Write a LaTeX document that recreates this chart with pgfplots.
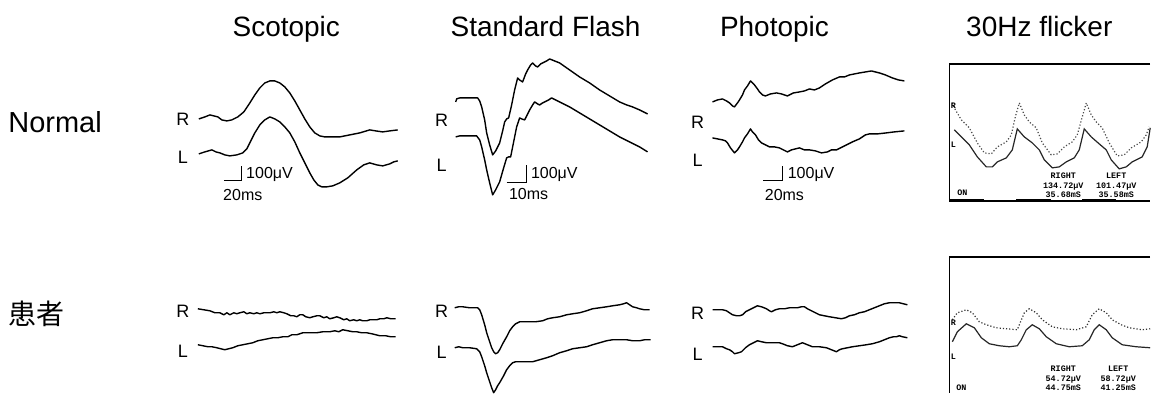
\documentclass[border=0pt]{standalone}
\usepackage{pgfplots}
\pgfplotsset{compat=1.18}
\usepackage{fontspec}
\setmainfont{Liberation Sans}
\newfontfamily\cjk{Noto Sans CJK JP}
\newfontfamily\mono{Liberation Mono}
\tikzset{
  tr/.style={black, line width=0.7pt, line join=round},
  sb/.style={black, line width=0.6pt},
  rl/.style={font=\fontsize{9}{10}\selectfont},
  sm/.style={anchor=west, inner sep=0pt, font=\fontsize{8}{9}\selectfont},
  tt/.style={anchor=base, font=\fontsize{14}{16}\selectfont},
  mo/.style={font=\fontsize{4.2}{3.4}\selectfont\mono\bfseries, align=center, inner sep=0pt},
}
\begin{document}
\begin{tikzpicture}
\begin{axis}[
  width=575.5pt, height=196.5pt, scale only axis,
  xmin=0, xmax=1151, ymin=0, ymax=393, y dir=reverse,
  hide axis, clip=false,
]
\addplot[draw=none] coordinates {(0,0) (1151,393)};
% titles
\node[tt] at (axis cs:286.5,37) {Scotopic};
\node[tt] at (axis cs:546,37) {Standard Flash};
\node[tt] at (axis cs:775,37) {Photopic};
\node[tt] at (axis cs:1040,37) {30Hz flicker};
\node[anchor=base west, inner sep=0pt, font=\fontsize{14.5}{16}\selectfont] at (axis cs:8,133) {Normal};
\node[anchor=base west, inner sep=0pt, font=\fontsize{14}{16}\selectfont\cjk] at (axis cs:8,325) {患者};
% R/L labels
\node[rl] at (axis cs:183,119) {R};
\node[rl] at (axis cs:183,157) {L};
\node[rl] at (axis cs:442,120) {R};
\node[rl] at (axis cs:442,165) {L};
\node[rl] at (axis cs:698,122) {R};
\node[rl] at (axis cs:698,160) {L};
\node[rl] at (axis cs:183,312) {R};
\node[rl] at (axis cs:183,352) {L};
\node[rl] at (axis cs:442,312) {R};
\node[rl] at (axis cs:442,353) {L};
\node[rl] at (axis cs:698,314) {R};
\node[rl] at (axis cs:698,355) {L};
% scale bars
\addplot[sb] coordinates {(224,181)(242,181)(242,166)};
\addplot[sb] coordinates {(507,183)(527,183)(527,165)};
\addplot[sb] coordinates {(764,181)(783,181)(783,166)};
\node[sm] at (axis cs:246,175) {100μV};
\node[sm] at (axis cs:223,195) {20ms};
\node[sm] at (axis cs:531,175) {100μV};
\node[sm] at (axis cs:509,194) {10ms};
\node[sm] at (axis cs:788,175) {100μV};
\node[sm] at (axis cs:765,195) {20ms};
% Scotopic normal
\addplot[tr] coordinates {(199,119)(205,117)(210,115)(214,116)(218,117)(222,120)(227,121)(232,120)(238,117)(244,112)(250,103)(255,95)(260,88)(265,83)(270,81)(275,81)(280,83)(285,87)(290,93)(295,101)(300,110)(305,119)(310,127)(315,133)(320,136)(325,137)(330,137)(340,137)(350,135)(360,133)(370,130)(376,131)(383,132)(390,131)(398,130)};
\addplot[tr] coordinates {(199,154)(205,152)(212,150)(216,152)(220,153)(225,155)(230,156)(237,155)(243,153)(247,149)(250,143)(255,133)(260,125)(265,120)(270,117)(275,119)(280,122)(285,127)(290,133)(295,142)(300,153)(305,163)(310,173)(314,180)(318,185)(322,187)(327,187)(333,186)(340,183)(348,178)(357,170)(364,165)(370,163)(377,165)(383,166)(390,164)(394,162)(398,161)};
% Standard flash normal
\addplot[tr] coordinates {(456,102)(457,99)(460,98)(470,98)(478,98)(480,101)(482,107)(485,120)(487,133)(490,145)(493,155)(496,151)(500,143)(503,131)(505,122)(507,119)(509,118)(512,105)(515,90)(518,78)(520,80)(523,82)(526,74)(528,70)(531,65)(533,63)(536,66)(538,67)(541,64)(543,63)(547,61)(550,59)(555,61)(560,63)(570,70)(580,77)(590,83)(600,90)(610,96)(620,102)(627,105)(633,107)(640,110)(648,114)};
\addplot[tr] coordinates {(456,137)(460,136)(470,136)(477,136)(480,140)(482,147)(485,160)(487,170)(490,183)(493,195)(496,190)(500,182)(504,168)(507,158)(509,157)(511,157)(514,142)(517,127)(520,118)(522,119)(525,120)(528,114)(530,110)(533,105)(535,102)(538,104)(540,105)(543,103)(545,102)(549,100)(552,98)(556,100)(560,102)(570,107)(580,113)(590,119)(600,125)(610,131)(620,137)(630,142)(640,147)(648,152)};
% Photopic normal
\addplot[tr] coordinates {(713,102)(718,100)(723,99)(727,101)(730,103)(733,106)(735,107)(738,103)(740,100)(743,95)(745,90)(748,86)(751,81)(753,83)(755,85)(758,89)(760,92)(763,95)(766,96)(771,94)(777,93)(782,94)(788,96)(794,93)(800,92)(805,91)(810,89)(815,90)(820,88)(826,84)(833,80)(840,77)(845,77)(850,75)(855,74)(860,73)(866,72)(872,71)(876,72)(880,73)(886,75)(893,78)(899,80)(905,81)};
\addplot[tr] coordinates {(713,138)(718,139)(723,140)(726,141)(728,143)(731,148)(735,153)(738,150)(740,147)(743,142)(745,138)(748,134)(751,129)(753,132)(756,135)(759,140)(762,143)(766,145)(770,147)(775,147)(780,148)(784,150)(788,152)(792,150)(796,149)(800,148)(805,150)(810,150)(816,151)(822,153)(828,152)(832,150)(837,150)(845,146)(853,142)(860,139)(866,135)(870,134)(878,134)(887,133)(895,132)(905,131)};
% Scotopic patient
\addplot[tr] coordinates {(198,309)(204,310)(210,311)(215,313)(220,313)(224,315)(227,313)(230,315)(234,313)(237,314)(240,313)(244,312)(247,314)(250,313)(254,314)(257,313)(260,314)(264,313)(267,313)(270,313)(274,312)(277,313)(280,312)(284,313)(287,314)(291,316)(294,316)(297,317)(300,315)(303,315)(306,317)(310,318)(313,317)(317,316)(320,316)(324,318)(327,317)(330,319)(334,318)(337,317)(340,318)(344,320)(347,319)(350,321)(354,320)(357,321)(360,320)(363,321)(367,321)(370,320)(374,320)(377,320)(380,319)(384,319)(387,318)(391,319)(396,319)};
\addplot[tr] coordinates {(198,345)(203,346)(208,347)(212,347)(217,348)(221,349)(225,350)(229,349)(233,348)(238,346)(243,345)(248,344)(253,343)(258,341)(263,340)(268,339)(273,338)(278,338)(283,337)(288,337)(292,335)(297,335)(300,334)(303,333)(310,333)(317,333)(323,332)(330,332)(335,331)(339,332)(343,330)(348,331)(353,332)(357,332)(362,333)(367,333)(372,334)(376,335)(380,336)(386,336)(391,337)(396,337)};
% Standard flash patient
\addplot[tr] coordinates {(455,308)(459,307)(463,307)(470,308)(478,308)(480,310)(482,315)(485,325)(487,333)(490,342)(492,348)(494,352)(496,354)(498,353)(500,350)(503,344)(507,337)(510,331)(513,327)(516,324)(520,322)(525,322)(530,322)(536,322)(543,321)(548,319)(553,318)(560,317)(567,315)(573,314)(580,313)(587,311)(593,309)(600,308)(607,307)(613,306)(620,305)(624,304)(627,303)(630,305)(633,307)(637,308)(640,309)(645,310)(650,310)};
\addplot[tr] coordinates {(455,348)(459,347)(463,348)(470,348)(477,349)(480,352)(482,357)(485,366)(487,373)(490,382)(492,388)(494,393)(496,390)(498,386)(500,383)(504,376)(507,370)(510,366)(513,363)(516,362)(520,362)(527,362)(533,362)(540,360)(547,358)(553,356)(560,353)(567,351)(573,349)(580,348)(587,347)(593,345)(600,343)(607,341)(613,340)(620,340)(627,340)(633,341)(640,341)(645,340)(651,340)};
% Photopic patient
\addplot[tr] coordinates {(713,310)(718,310)(723,310)(727,311)(730,313)(733,315)(737,316)(740,316)(743,315)(746,312)(750,310)(754,308)(758,306)(762,307)(767,309)(770,311)(772,312)(776,310)(780,309)(785,309)(790,308)(794,308)(798,308)(802,307)(805,307)(808,309)(812,311)(816,313)(820,315)(825,316)(830,317)(836,318)(842,319)(846,318)(850,316)(855,315)(860,313)(865,312)(870,310)(875,308)(880,306)(885,304)(890,303)(895,303)(900,303)(904,304)(908,305)};
\addplot[tr] coordinates {(713,347)(718,347)(723,347)(727,349)(730,350)(733,352)(735,354)(739,353)(742,352)(746,348)(750,345)(754,343)(758,341)(762,342)(767,343)(772,343)(777,343)(780,343)(783,344)(788,346)(793,347)(798,345)(803,343)(808,345)(813,347)(820,347)(827,348)(832,350)(837,352)(840,350)(843,349)(848,348)(853,347)(860,346)(867,345)(873,344)(880,342)(885,340)(890,338)(894,337)(897,337)(900,336)(903,337)(908,338)};
% 30Hz flicker normal: frame
\addplot[black, line width=0.8pt] coordinates {(1151,64)(950,64)(950,201)(1151,201)};
\addplot[black, line width=1.6pt] coordinates {(950,201)(985,201)};
\addplot[black, line width=1.6pt] coordinates {(1017,201)(1052,201)};
\addplot[black, line width=1.6pt] coordinates {(1083,201)(1117,201)};
\addplot[black!70, line width=0.6pt, densely dotted] coordinates {(953,103)(955,108)(962,120)(970,128)(978,143)(985,153)(992,154)(998,147)(1007,142)(1012,135)(1016,117)(1020,103)(1025,115)(1030,122)(1037,128)(1043,143)(1052,155)(1058,154)(1065,147)(1073,142)(1078,135)(1083,117)(1087,103)(1092,115)(1097,122)(1103,128)(1110,143)(1118,156)(1125,155)(1132,148)(1142,142)(1147,135)(1150,127)};
\addplot[black!85, line width=0.6pt] coordinates {(955,130)(962,137)(970,145)(978,157)(987,167)(993,167)(998,162)(1007,158)(1013,150)(1018,129)(1025,137)(1033,143)(1040,150)(1045,160)(1053,168)(1060,167)(1067,162)(1075,158)(1080,150)(1085,129)(1092,137)(1100,144)(1107,150)(1112,160)(1120,169)(1127,167)(1133,162)(1143,157)(1148,147)(1151,128)};
\node[mo] at (axis cs:954,106) {R};
\node[mo] at (axis cs:954,145) {L};
\node[mo] at (axis cs:1064,176) {RIGHT};
\node[mo] at (axis cs:1117,176) {LEFT};
\node[mo] at (axis cs:1064,190.5) {134.72μV\\35.68mS};
\node[mo] at (axis cs:1117,190.5) {101.47μV\\35.58mS};
\node[mo] at (axis cs:963,193) {ON};
% 30Hz flicker patient
\addplot[black, line width=0.8pt] coordinates {(1151,257)(950,257)(950,393)};
\addplot[black!80, line width=0.6pt, densely dotted] coordinates {(953,320)(958,313)(967,310)(973,313)(980,322)(987,325)(997,328)(1007,329)(1018,330)(1020,325)(1025,313)(1030,309)(1037,313)(1043,320)(1053,327)(1063,329)(1077,330)(1087,327)(1093,315)(1100,309)(1107,313)(1113,320)(1122,325)(1130,328)(1143,330)(1151,329)};
\addplot[black!85, line width=0.6pt] coordinates {(953,342)(958,332)(967,324)(975,328)(982,338)(990,344)(1000,346)(1010,347)(1018,346)(1022,340)(1027,330)(1033,325)(1040,329)(1047,337)(1057,344)(1070,347)(1083,346)(1090,340)(1095,330)(1100,325)(1107,330)(1113,338)(1123,345)(1137,347)(1151,348)};
\node[mo] at (axis cs:954,323) {R};
\node[mo] at (axis cs:954,357) {L};
\node[mo] at (axis cs:1064,369) {RIGHT};
\node[mo] at (axis cs:1119,369) {LEFT};
\node[mo] at (axis cs:1064,383.5) {54.72μV\\44.75mS};
\node[mo] at (axis cs:1119,383.5) {58.72μV\\41.25mS};
\node[mo] at (axis cs:962,388) {ON};
\end{axis}
\end{tikzpicture}
\end{document}
